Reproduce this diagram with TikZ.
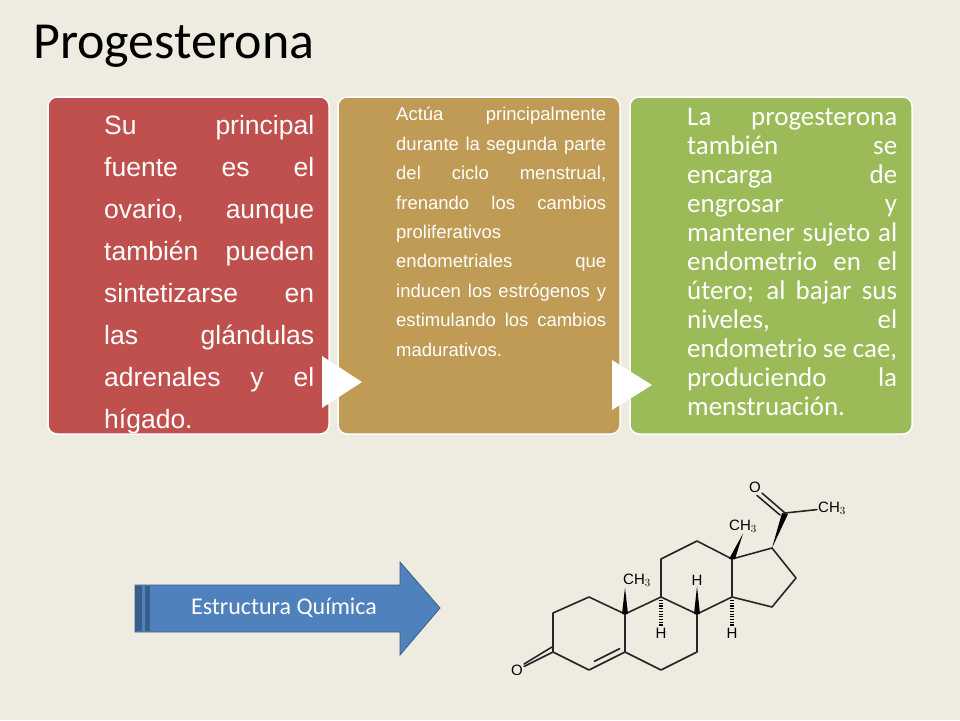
\documentclass[tikz,border=0pt]{standalone}
\usepackage{fontspec}
\usetikzlibrary{calc}
\setmainfont{Liberation Sans}
\newfontfamily\calib{Carlito}
\definecolor{bg}{HTML}{EEECE1}
\definecolor{cred}{HTML}{C0504D}
\definecolor{ctan}{HTML}{BF9B55}
\definecolor{cgreen}{HTML}{9BBB59}
\definecolor{cblue}{HTML}{4F81BD}
\definecolor{cblued}{HTML}{385D8A}
\newcommand\jl[2]{\makebox[#1][s]{#2}}
\begin{document}
\begin{tikzpicture}[x=1pt,y=-1pt,
  card/.style={draw=white,line width=1.5pt,rounded corners=9pt},
  tri/.style={fill=white,draw=none},
  bond/.style={line width=1.6pt,line cap=round,line join=round,draw=black!85},
  atom/.style={font=\fontsize{15}{15}\selectfont,inner sep=1pt,fill=bg}]
\useasboundingbox (0,0) rectangle (960,720);
\fill[bg] (0,0) rectangle (960,720);
\node[anchor=base west,font=\calib\fontsize{52}{52}\selectfont,inner sep=0] (title) at (33,58) {Progesterona};
\draw[card,fill=cred] (48,97) rectangle (329,434);
\draw[card,fill=ctan] (338,97) rectangle (620,434);
\draw[card,fill=cgreen] (630,97) rectangle (912,434);
\fill[tri] (322,356) -- (362,382) -- (322,408) -- cycle;
\fill[tri] (612,360) -- (652,385) -- (612,410) -- cycle;
\node[anchor=north west,inner sep=0,align=left,font=\fontsize{26.5}{42}\selectfont,text=white] (t1) at (104,115) {%
\jl{210pt}{Su principal}\\ \jl{210pt}{fuente es el}\\ \jl{210pt}{ovario, aunque}\\ \jl{210pt}{también pueden}\\ \jl{210pt}{sintetizarse en}\\ \jl{210pt}{las glándulas}\\ \jl{210pt}{adrenales y el}\\ hígado.};
\node[anchor=north west,inner sep=0,align=left,font=\fontsize{18.5}{29.4}\selectfont,text=white] (t2) at (396,107) {%
\jl{210pt}{Actúa principalmente}\\ \jl{210pt}{durante la segunda parte}\\ \jl{210pt}{del ciclo menstrual,}\\ \jl{210pt}{frenando los cambios}\\ proliferativos\\ \jl{210pt}{endometriales que}\\ \jl{210pt}{inducen los estrógenos y}\\ \jl{210pt}{estimulando los cambios}\\ madurativos.};
\node[anchor=north west,inner sep=0,align=left,font=\calib\fontsize{27}{29}\selectfont,text=white] (t3) at (687,108) {%
\jl{210pt}{La progesterona}\\ \jl{210pt}{también se}\\ \jl{210pt}{encarga de}\\ \jl{210pt}{engrosar y}\\ \jl{210pt}{mantener sujeto al}\\ \jl{210pt}{endometrio en el}\\ \jl{210pt}{útero; al bajar sus}\\ \jl{210pt}{niveles, el}\\ \jl{210pt}{endometrio se cae,}\\ \jl{210pt}{produciendo la}\\ menstruación.};
% arrow
\draw[fill=cblue,draw=cblued,line width=0.8pt] (135,585) -- (400,585) -- (400,562) -- (440,608) -- (400,655) -- (400,632) -- (135,632) -- cycle;
\fill[cblued] (135,586) rectangle (142,631);
\fill[cblued] (145,586) rectangle (150,631);
\node[font=\calib\fontsize{24}{24}\selectfont,text=white] (lab) at (284,608) {Estructura Química};
% molecule
\coordinate (c3) at (553,652); \coordinate (c2) at (553,613); \coordinate (c1) at (589,597);
\coordinate (c10) at (625,614); \coordinate (c5) at (625,652); \coordinate (c4) at (589,670);
\coordinate (c9) at (661,597); \coordinate (c8) at (697,614); \coordinate (c7) at (697,652); \coordinate (c6) at (661,670);
\coordinate (c11) at (661,559); \coordinate (c12) at (697,541); \coordinate (c13) at (732,559); \coordinate (c14) at (732,597);
\coordinate (c17) at (772,548); \coordinate (c16) at (796,578); \coordinate (c15) at (772,607);
\coordinate (c20) at (785,513);
\draw[bond] (c3)--(c2)--(c1)--(c10)--(c5)--(c4)--(c3);
\draw[bond] (c10)--(c9)--(c8)--(c7)--(c6)--(c5);
\draw[bond] (c9)--(c11)--(c12)--(c13)--(c14)--(c8);
\draw[bond] (c13)--(c17)--(c16)--(c15)--(c14);
\draw[bond] ($(c4)!0.15!(c5)+(0,-6)$) -- ($(c5)!0.15!(c4)+(0,-6)$);
\node[atom] (o1) at (517,670) {O};
\draw[bond] (c3) -- (o1);
\draw[bond] ($(c3)+(-1,-5)$) -- ($(o1.east)+(0,-6)$);
\node[atom] (o2) at (755,487) {O};
\draw[bond] (c20) -- (o2);
\draw[bond] ($(c20)+(-5,2)$) -- ($(o2.south east)+(-5,2)$);
\node[atom,anchor=west] (m21) at (817,508) {CH$_3$};
\draw[bond] (c20) -- (m21);
\fill (c17) -- ($(c20)+(-3,0)$) -- ($(c20)+(3,1)$) -- cycle;
\node[atom] (m18) at (743,526) {CH$_3$};
\fill ($(c13)+(-3,0)$) -- ($(c13)+(3,0)$) -- (m18.south) -- cycle;
\node[atom] (m19) at (637,580) {CH$_3$};
\fill ($(c10)+(-3,0)$) -- ($(c10)+(3,0)$) -- ($(m19.south)+(-12,0)$) -- cycle;
\node[atom] (h8) at (697,580) {H};
\fill ($(c8)+(-3,0)$) -- ($(c8)+(3,0)$) -- (h8.south) -- cycle;
\node[atom] (h9) at (661,633) {H};
\draw[dash pattern=on 1.2pt off 1.5pt,line width=4pt] ($(c9)+(0,3)$) -- (h9.north);
\node[atom] (h14) at (732,633) {H};
\draw[dash pattern=on 1.2pt off 1.5pt,line width=4pt] ($(c14)+(0,3)$) -- (h14.north);
\end{tikzpicture}
\end{document}
